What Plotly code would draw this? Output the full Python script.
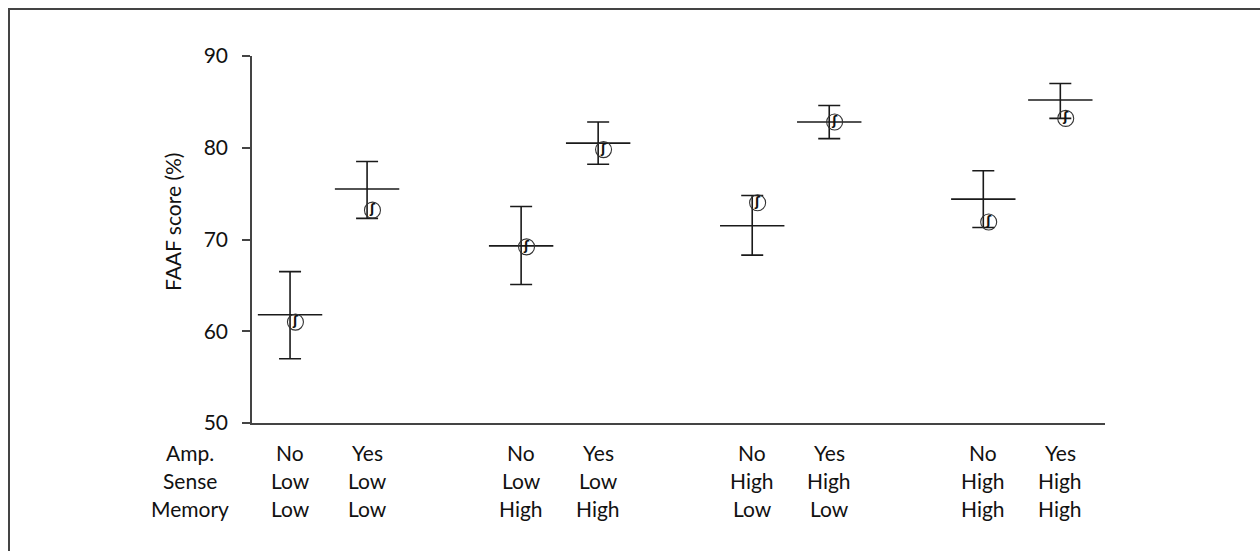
import plotly.graph_objects as go

# Conditions: amplification x sensory ability x memory ability
amp = ["No", "Yes", "No", "Yes", "No", "Yes", "No", "Yes"]
sense = ["Low", "Low", "Low", "Low", "High", "High", "High", "High"]
memory = ["Low", "Low", "High", "High", "Low", "Low", "High", "High"]
xpos = [0, 1, 3, 4, 6, 7, 9, 10]

# Model estimate with upper / lower interval bounds (FAAF %)
mean_score = [61.8, 75.5, 69.3, 80.5, 71.5, 82.8, 74.4, 85.2]
upper = [66.5, 78.5, 73.6, 82.8, 74.8, 84.6, 77.5, 87.0]
lower = [57.0, 72.3, 65.1, 78.2, 68.3, 81.0, 71.3, 83.2]
# Observed scores (hearing-aid symbol)
observed = [61.0, 73.2, 69.2, 79.8, 74.0, 82.8, 71.9, 83.2]

FONT = "Lato, 'Open Sans', sans-serif"
FS = 21
W, H = 1260, 551
ML, MR, MT, MB = 252, 155, 56, 128
PW, PH = W - ML - MR, H - MT - MB
INK = "#1a1a1a"

fig = go.Figure()

# Interval bars with caps, centred on the model estimate
fig.add_trace(go.Scatter(
    x=xpos, y=mean_score, mode="markers",
    marker=dict(symbol="line-ew", size=46, line=dict(width=1.6, color=INK), color=INK),
    error_y=dict(type="data", symmetric=False,
                 array=[u - m for u, m in zip(upper, mean_score)],
                 arrayminus=[m - l for m, l in zip(mean_score, lower)],
                 width=11, thickness=1.6, color=INK),
    showlegend=False, hoverinfo="skip",
))

# Observed score: open circle with ear glyph, set just right of the bar
obs_x = [x + 0.07 for x in xpos]
fig.add_trace(go.Scatter(
    x=obs_x, y=observed, mode="markers",
    marker=dict(symbol="circle-open", size=16, color="#333",
                line=dict(width=1.1, color="#333")),
    showlegend=False, hoverinfo="skip",
))
fig.add_trace(go.Scatter(
    x=obs_x, y=observed, mode="text", text=["<b>ʃ</b>"] * len(obs_x),
    textfont=dict(family="DejaVu Sans", size=12, color="#111"),
    textposition="middle center",
    showlegend=False, hoverinfo="skip",
))

annotations = []
# Condition labels below the axis, three rows
rows = [("Amp.", amp, 452), ("Sense", sense, 481), ("Memory", memory, 509)]
for head, vals, py in rows:
    yp = (MT + PH - py) / PH
    annotations.append(dict(text=head, xref="paper", yref="paper",
                            x=(190 - ML) / PW, y=yp, showarrow=False,
                            xanchor="center", yanchor="middle",
                            font=dict(family=FONT, size=FS, color="#111")))
    for x, v in zip(xpos, vals):
        annotations.append(dict(text=v, xref="x", yref="paper", x=x, y=yp,
                                showarrow=False, xanchor="center", yanchor="middle",
                                font=dict(family=FONT, size=FS, color="#111")))

# Y-axis title
annotations.append(dict(text="FAAF score (%)", xref="paper", yref="paper",
                        x=(172 - ML) / PW, y=(MT + PH - 222) / PH, textangle=-90,
                        showarrow=False, xanchor="center", yanchor="middle",
                        font=dict(family=FONT, size=FS, color="#111")))

# Frame around the figure (right and bottom edges run past the page)
shapes = [dict(type="rect", xref="paper", yref="paper",
               x0=(9 - ML) / PW, x1=(1275 - ML) / PW,
               y0=(MT + PH - 570) / PH, y1=(MT + PH - 9) / PH,
               line=dict(color="#444", width=2), fillcolor="rgba(0,0,0,0)")]

fig.update_layout(
    width=W, height=H,
    margin=dict(l=ML, r=MR, t=MT, b=MB),
    paper_bgcolor="white", plot_bgcolor="white",
    annotations=annotations, shapes=shapes,
    xaxis=dict(range=[-0.494, 10.58], showgrid=False, zeroline=False,
               showticklabels=False, ticks="", showline=True,
               linecolor="#444", linewidth=1.5),
    yaxis=dict(range=[50, 90], tickvals=[50, 60, 70, 80, 90],
               showgrid=False, zeroline=False, showline=True,
               linecolor="#444", linewidth=1.5, ticks="outside",
               ticklen=8, tickwidth=1.5, tickcolor="#444",
               ticklabelstandoff=10,
               tickfont=dict(family=FONT, size=FS, color="#111")),
)

fig.write_html("out.html")
